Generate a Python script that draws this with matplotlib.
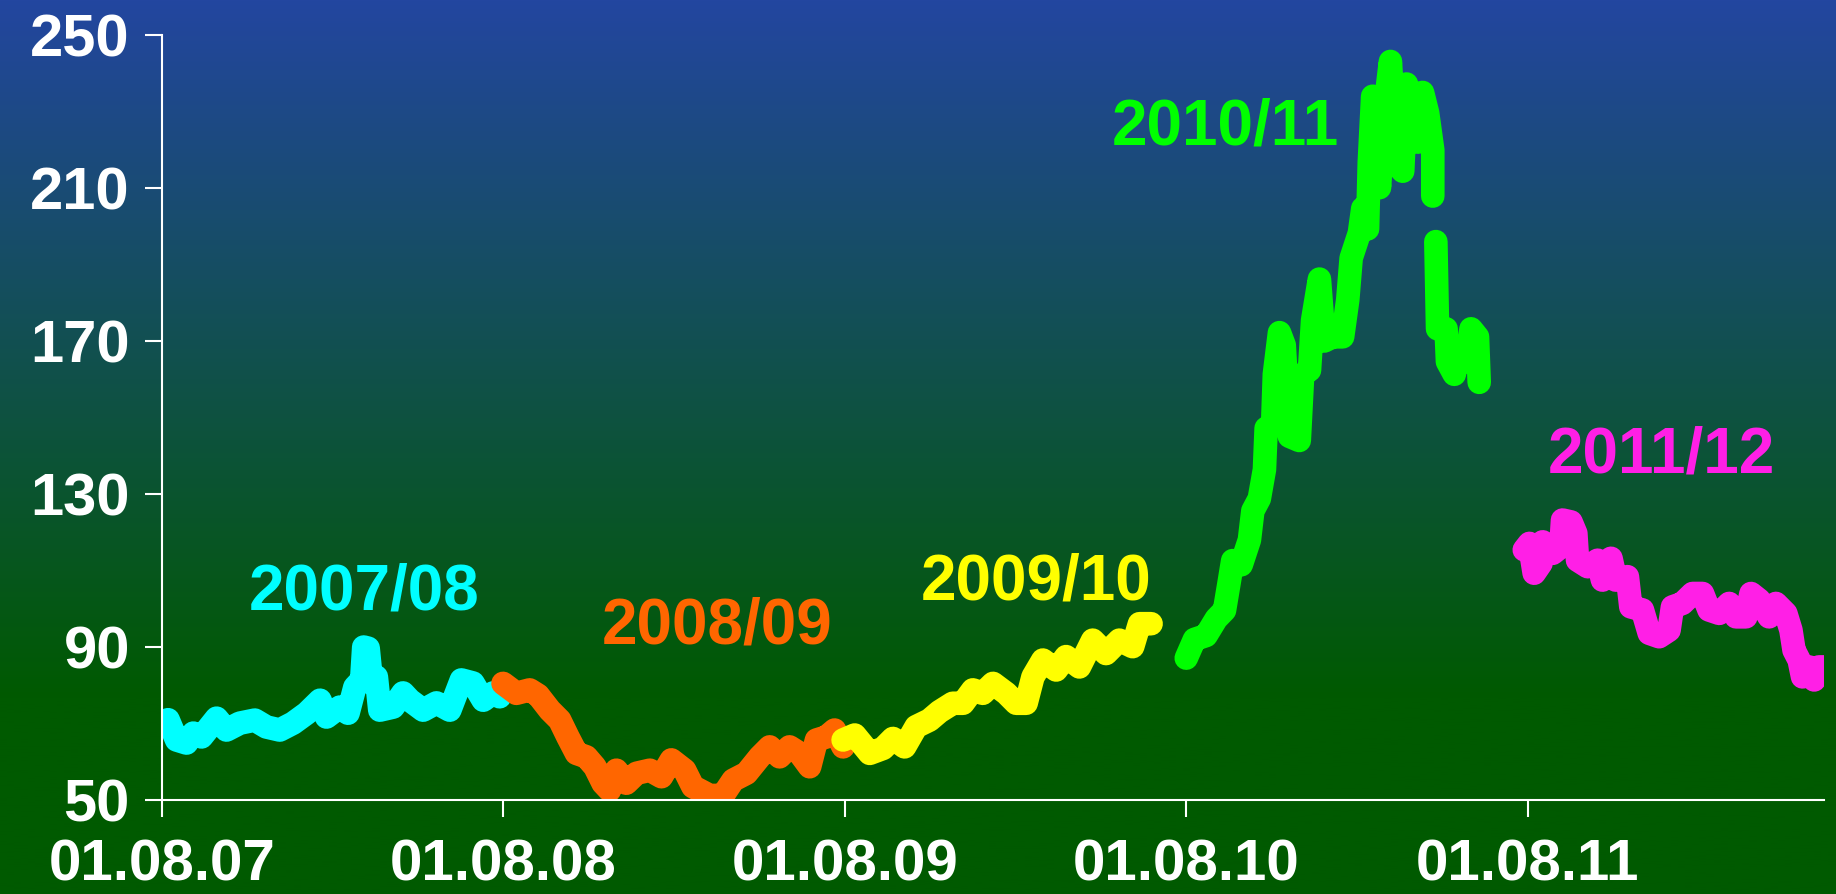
import matplotlib.pyplot as plt
import numpy as np

# time axis: years since 01.08.2007
t_0708 = [0.004, 0.018, 0.043, 0.072, 0.092, 0.116, 0.160, 0.189, 0.228, 0.272,
          0.306, 0.345, 0.384, 0.424, 0.463, 0.482, 0.521, 0.545, 0.565, 0.585,
          0.591, 0.604, 0.614, 0.628, 0.638, 0.677, 0.706, 0.726, 0.765, 0.804,
          0.843, 0.877, 0.911, 0.941, 0.970, 0.989]
v_0708 = [70.1, 71.0, 65.7, 64.9, 67.5, 66.5, 71.4, 68.3, 70.1, 70.9,
          69.1, 68.3, 70.1, 72.7, 76.1, 71.7, 74.3, 72.7, 79.5, 81.4,
          90.0, 89.7, 80.6, 82.2, 73.5, 74.3, 78.0, 76.1, 73.5, 75.4,
          73.5, 81.4, 80.6, 76.1, 78.0, 77.0]

t_0809 = [0.999, 1.038, 1.077, 1.102, 1.136, 1.165, 1.189, 1.214, 1.243, 1.268,
          1.292, 1.311, 1.331, 1.360, 1.390, 1.429, 1.463, 1.492, 1.531, 1.555,
          1.604, 1.643, 1.673, 1.712, 1.751, 1.780, 1.809, 1.838, 1.868, 1.897,
          1.917, 1.946, 1.970, 1.995]
v_0809 = [80.5, 77.9, 78.8, 77.4, 73.5, 70.9, 66.5, 62.2, 61.3, 58.7,
          54.4, 52.6, 57.8, 54.4, 57.0, 57.8, 56.1, 60.5, 57.8, 53.5,
          51.2, 51.2, 55.2, 57.0, 61.3, 63.9, 61.3, 63.9, 62.2, 58.7,
          65.7, 66.5, 68.3, 63.9]

t_0910 = [1.995, 2.029, 2.073, 2.112, 2.141, 2.175, 2.209, 2.248, 2.277, 2.316,
          2.346, 2.375, 2.404, 2.434, 2.473, 2.502, 2.531, 2.551, 2.580, 2.619,
          2.648, 2.687, 2.726, 2.765, 2.804, 2.843, 2.863, 2.897]
v_0910 = [65.7, 67.0, 62.2, 63.5, 66.1, 63.9, 69.2, 70.9, 73.1, 75.3,
          75.3, 78.8, 77.9, 80.5, 77.9, 75.3, 75.3, 82.2, 86.6, 84.0,
          87.5, 84.8, 91.8, 88.3, 91.8, 90.1, 96.1, 96.1]

t_1011 = [3.000, 3.024, 3.058, 3.088, 3.112, 3.126, 3.136, 3.161, 3.185, 3.195,
          3.214, 3.229, 3.234, 3.253, 3.258, 3.273, 3.287, 3.302, 3.331, 3.341,
          3.361, 3.370, 3.390, 3.404, 3.429, 3.458, 3.473, 3.483, 3.507, 3.517,
          3.531, 3.536, 3.546, 3.566, 3.580, 3.598, 3.614, 3.634, 3.645, 3.663,
          3.678, 3.692, 3.707, 3.722, 3.722, 3.726, 3.731, 3.736, 3.761, 3.765,
          3.785, 3.800, 3.819, 3.834, 3.853, 3.858]
v_1011 = [87.1, 92.0, 93.0, 97.4, 99.6, 107.1, 112.6, 111.5, 118.0, 125.6,
          128.8, 136.4, 147.2, 148.3, 161.3, 172.2, 168.9, 145.1, 144.0, 161.3,
          162.4, 175.4, 186.2, 170.0, 171.1, 171.1, 180.8, 191.7, 198.2, 204.7,
          199.3, 216.6, 234.0, 210.1, 229.6, 243.1, 216.6, 214.4, 237.2, 229.6,
          222.0, 235.0, 229.6, 219.9, 207.9, np.nan, 196.0, 173.2, 173.2, 164.6,
          161.3, 167.8, 164.6, 173.2, 171.1, 159.2]

t_1112 = [3.990, 4.005, 4.019, 4.039, 4.044, 4.073, 4.097, 4.102, 4.127, 4.141,
          4.146, 4.176, 4.205, 4.219, 4.244, 4.258, 4.292, 4.302, 4.336, 4.356,
          4.385, 4.414, 4.424, 4.453, 4.483, 4.512, 4.531, 4.561, 4.590, 4.610,
          4.639, 4.654, 4.678, 4.707, 4.727, 4.756, 4.771, 4.780, 4.795, 4.805,
          4.824, 4.839, 4.853, 4.870]
v_1112 = [115.4, 117.1, 109.3, 111.9, 117.5, 114.5, 116.2, 123.2, 122.7, 119.7,
          112.7, 111.0, 112.7, 107.5, 113.2, 107.5, 108.4, 100.5, 99.7, 93.6,
          92.7, 94.4, 100.5, 101.4, 104.0, 104.0, 99.7, 98.8, 101.4, 97.9,
          97.9, 104.0, 102.3, 97.9, 101.4, 98.8, 94.4, 89.2, 86.6, 82.2,
          84.8, 81.4, 84.8, 84.8]

season_labels = ['2007/08', '2008/09', '2009/10', '2010/11', '2011/12']
season_colors = ['#00FFFF', '#FF6600', '#FFFF00', '#00FF00', '#FF1FE6']
label_x = [0.593, 1.625, 2.559, 3.115, 4.391]
label_y = [104.2, 95.4, 107.0, 225.8, 140.0]

tick_pos = [0, 1, 2, 3, 4]
tick_labels = ['01.08.07', '01.08.08', '01.08.09', '01.08.10', '01.08.11']
y_ticks = [50, 90, 130, 170, 210, 250]

plt.rcParams['font.family'] = ['Liberation Sans', 'DejaVu Sans']
plt.rcParams['font.weight'] = 'bold'

fig = plt.figure(figsize=(18.36, 8.94), dpi=100)

# Background gradient: blue at top fading to dark green
bg = fig.add_axes([0, 0, 1, 1], zorder=-10)
n = 500
frac = np.clip(np.linspace(0, 1, n) / 0.78, 0, 1)
top = np.array([35, 70, 160]) / 255
bottom = np.array([0, 90, 0]) / 255
grad = top[None, :] * (1 - frac[:, None]) + bottom[None, :] * frac[:, None]
bg.imshow(grad[:, None, :], aspect='auto', extent=[0, 1, 0, 1])
bg.axis('off')

ax = fig.add_axes([0.0882, 0.1051, 0.9053, 0.8557])
ax.patch.set_alpha(0)

series = [(t_0708, v_0708), (t_0809, v_0809), (t_0910, v_0910),
          (t_1011, v_1011), (t_1112, v_1112)]
for (t, v), c in zip(series, season_colors):
    ax.plot(t, v, color=c, lw=17, solid_capstyle='round', solid_joinstyle='round')

for lab, c, lx, ly in zip(season_labels, season_colors, label_x, label_y):
    ax.text(lx, ly, lab, color=c, fontsize=46, fontweight='bold',
            ha='center', va='center')

ax.set_xlim(0, 4.868)
ax.set_ylim(50, 250)
ax.set_xticks(tick_pos)
ax.set_xticklabels(tick_labels)
ax.set_yticks(y_ticks)

for s in ['top', 'right']:
    ax.spines[s].set_visible(False)
for s in ['left', 'bottom']:
    ax.spines[s].set_color('white')
    ax.spines[s].set_linewidth(1.5)

ax.tick_params(axis='x', colors='white', length=12, width=1.5, pad=16, labelsize=42)
ax.tick_params(axis='y', colors='white', length=12, width=1.5, pad=11, labelsize=43)
for lab in ax.get_xticklabels() + ax.get_yticklabels():
    lab.set_fontweight('bold')

fig.savefig('out.png', dpi=100)
plt.close(fig)
